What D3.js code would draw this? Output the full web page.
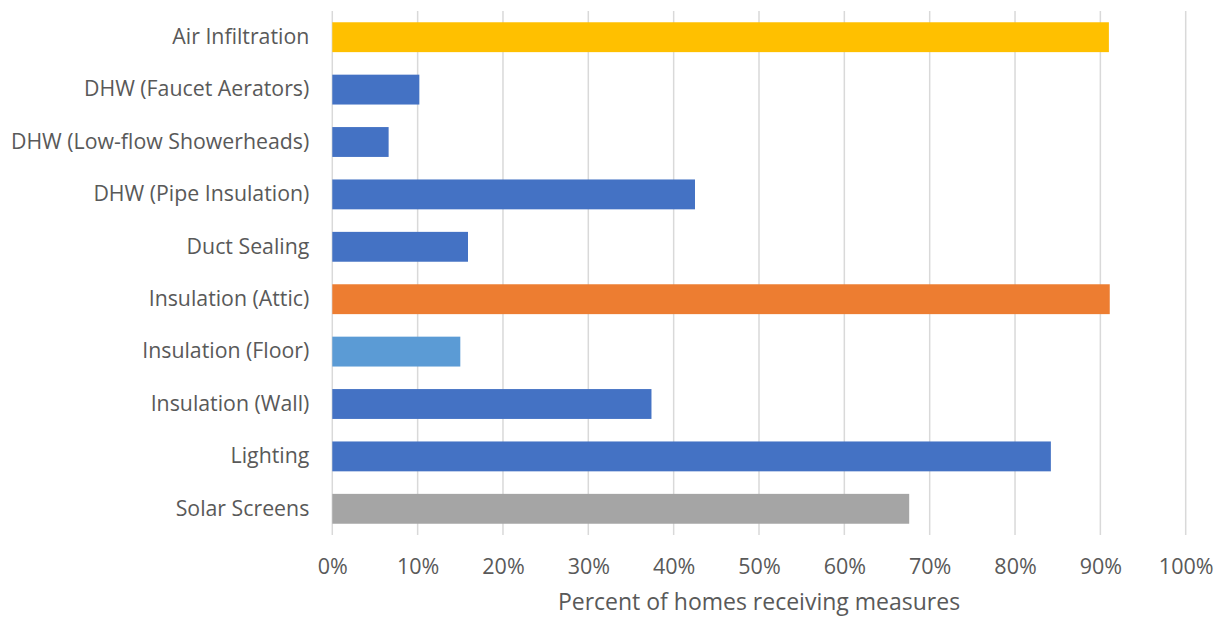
<!DOCTYPE html>
<html>
<head>
<meta charset="utf-8">
<script src="https://cdn.jsdelivr.net/npm/d3@7"></script>
<style>
  html, body { margin: 0; padding: 0; background: #fff; }
  svg text { font-family: "Open Sans", "Noto Sans", sans-serif; fill: #595959; }
</style>
</head>
<body>
<svg id="chart" width="1220" height="617"></svg>
<script>
// Measures and the share of homes receiving each one
const categories = [
  "Air Infiltration",
  "DHW (Faucet Aerators)",
  "DHW (Low-flow Showerheads)",
  "DHW (Pipe Insulation)",
  "Duct Sealing",
  "Insulation (Attic)",
  "Insulation (Floor)",
  "Insulation (Wall)",
  "Lighting",
  "Solar Screens"
];
const values = [0.910, 0.102, 0.066, 0.425, 0.159, 0.911, 0.150, 0.374, 0.842, 0.676];
const barColors = ["#FFC000", "#4472C4", "#4472C4", "#4472C4", "#4472C4",
                   "#ED7D31", "#5B9BD5", "#4472C4", "#4472C4", "#A5A5A5"];
const tickValues = [0, 0.1, 0.2, 0.3, 0.4, 0.5, 0.6, 0.7, 0.8, 0.9, 1.0];
const xTitle = "Percent of homes receiving measures";

const svg = d3.select("#chart");
const plotLeft = 332.3, plotRight = 1185.7, plotTop = 11, plotBottom = 535;

const x = d3.scaleLinear().domain([0, 1]).range([plotLeft, plotRight]);
const y = d3.scaleBand().domain(categories).range([plotTop, plotBottom]).paddingInner(0.43).paddingOuter(0.215);

// vertical gridlines
svg.append("g")
  .selectAll("line")
  .data(tickValues)
  .join("line")
  .attr("x1", d => x(d)).attr("x2", d => x(d))
  .attr("y1", plotTop).attr("y2", plotBottom)
  .attr("stroke", "#D9D9D9")
  .attr("stroke-width", 1.5);

// bars
svg.append("g")
  .selectAll("rect")
  .data(values)
  .join("rect")
  .attr("x", x(0))
  .attr("y", (d, i) => y(categories[i]))
  .attr("width", d => x(d) - x(0))
  .attr("height", y.bandwidth())
  .attr("fill", (d, i) => barColors[i]);

// category labels
const yAxis = d3.axisLeft(y).tickSize(0).tickPadding(23);
const gy = svg.append("g").attr("transform", `translate(${plotLeft},0)`).call(yAxis);
gy.select(".domain").remove();
gy.selectAll("text").style("font-size", "21.3px");

// percentage ticks
const xAxis = d3.axisBottom(x).tickValues(tickValues).tickFormat(d3.format(".0%")).tickSize(0).tickPadding(24);
const gx = svg.append("g").attr("transform", `translate(0,${plotBottom})`).call(xAxis);
gx.select(".domain").remove();
gx.selectAll("text").style("font-size", "21.5px");

// axis title
svg.append("text")
  .attr("x", (plotLeft + plotRight) / 2)
  .attr("y", 610)
  .attr("text-anchor", "middle")
  .style("font-size", "23px")
  .text(xTitle);
</script>
</body>
</html>
